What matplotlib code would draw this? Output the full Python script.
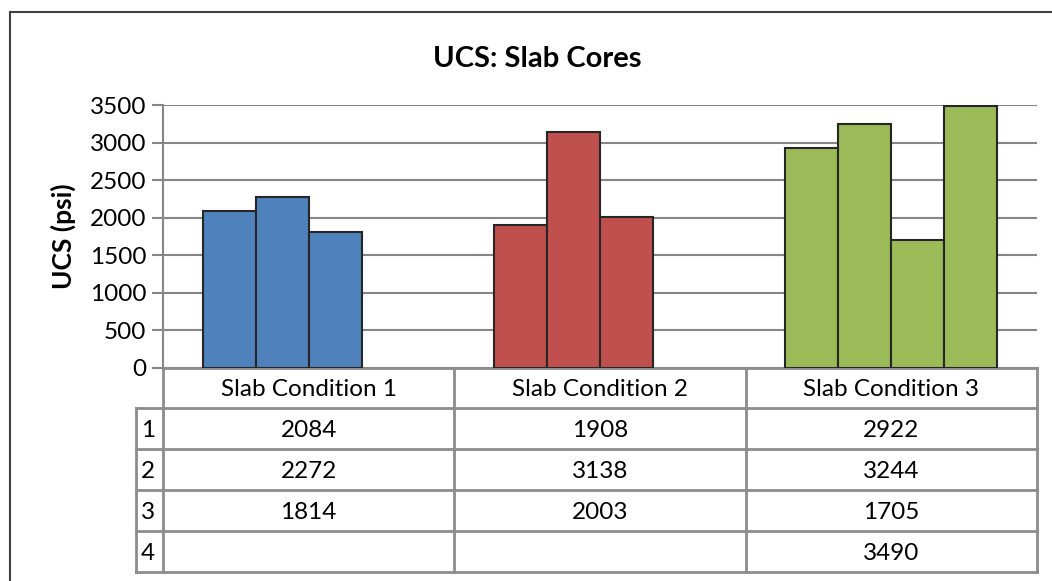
import matplotlib.pyplot as plt
from matplotlib.lines import Line2D
import numpy as np

plt.rcParams['font.family'] = ['Lato', 'DejaVu Sans']

categories = ['Slab Condition 1', 'Slab Condition 2', 'Slab Condition 3']
series_names = ['1', '2', '3', '4']
values = [
    [2084, 1908, 2922],
    [2272, 3138, 3244],
    [1814, 2003, 1705],
    [None, None, 3490],
]
colors = ['#4F81BD', '#C0504D', '#9BBB59']
yticks = [0, 500, 1000, 1500, 2000, 2500, 3000, 3500]

W, H = 1052, 581
fig = plt.figure(figsize=(W / 100, H / 100), dpi=100)
fs = 17.5

# plot area in pixels
x0, x1, ytop, ybot = 163, 1037, 105, 368
ax = fig.add_axes([x0 / W, 1 - ybot / H, (x1 - x0) / W, (ybot - ytop) / H])

n_series = len(values)
bw = 1 / (n_series + 1.5)
x = np.arange(len(categories))
for i, row in enumerate(values):
    for j, v in enumerate(row):
        if v is None:
            continue
        ax.bar(x[j] + (i - (n_series - 1) / 2) * bw, v, width=bw,
               color=colors[j], edgecolor='#262626', linewidth=1.5, zorder=3)

ax.set_xlim(-0.5, len(categories) - 0.5)
ax.set_ylim(0, 3500)
ax.set_yticks(yticks)
ax.set_yticklabels([str(t) for t in yticks], fontsize=fs)
ax.set_xticks([])
ax.yaxis.grid(True, color='#868686', linewidth=1.5, zorder=0)
for s in ['top', 'right', 'bottom']:
    ax.spines[s].set_visible(False)
ax.spines['left'].set_color('#868686')
ax.spines['left'].set_linewidth(1.5)
ax.tick_params(axis='y', length=8, width=1.5, color='#868686', pad=4)

fig.text(63 / W, 1 - 236 / H, 'UCS (psi)', fontsize=19, fontweight='bold',
         rotation=90, ha='center', va='center')
fig.text(537 / W, 1 - 59 / H, 'UCS: Slab Cores', fontsize=21, fontweight='bold',
         ha='center', va='center')

# data table under the plot, axes coordinates
ph = ybot - ytop
hdr = 40 / ph
rh = 41 / ph
lab_x = -27 / (x1 - x0)
tc = '#8C8C8C'
tkw = dict(color=tc, linewidth=2, transform=ax.transAxes, clip_on=False)

n_rows = len(series_names)
bottom = -hdr - n_rows * rh
for k in range(len(categories) + 1):
    xf = k / len(categories)
    ax.add_line(Line2D([xf, xf], [0, bottom], **tkw))
ax.add_line(Line2D([lab_x, lab_x], [-hdr, bottom], **tkw))
ax.add_line(Line2D([0, 1], [0, 0], **tkw))
for r in range(n_rows + 1):
    yf = -hdr - r * rh
    ax.add_line(Line2D([lab_x, 1], [yf, yf], **tkw))

dy = 2 / ph
for j, c in enumerate(categories):
    ax.text((j + 0.5) / len(categories), -hdr / 2 - dy, c, transform=ax.transAxes,
            ha='center', va='center', fontsize=fs)
for r, name in enumerate(series_names):
    yc = -hdr - (r + 0.5) * rh - dy
    ax.text(lab_x + 5 / (x1 - x0), yc, name, transform=ax.transAxes,
            ha='left', va='center', fontsize=fs)
    for j, v in enumerate(values[r]):
        if v is None:
            continue
        ax.text((j + 0.5) / len(categories), yc, str(v), transform=ax.transAxes,
                ha='center', va='center', fontsize=fs)

# outer chart border (right and bottom edges fall outside the image)
fig.add_artist(Line2D([10 / W, 10 / W], [0, 1 - 12 / H], color='#404040',
                      linewidth=1.5, transform=fig.transFigure))
fig.add_artist(Line2D([10 / W, 1], [1 - 12 / H, 1 - 12 / H], color='#404040',
                      linewidth=1.5, transform=fig.transFigure))

fig.savefig('out.png', dpi=100)
